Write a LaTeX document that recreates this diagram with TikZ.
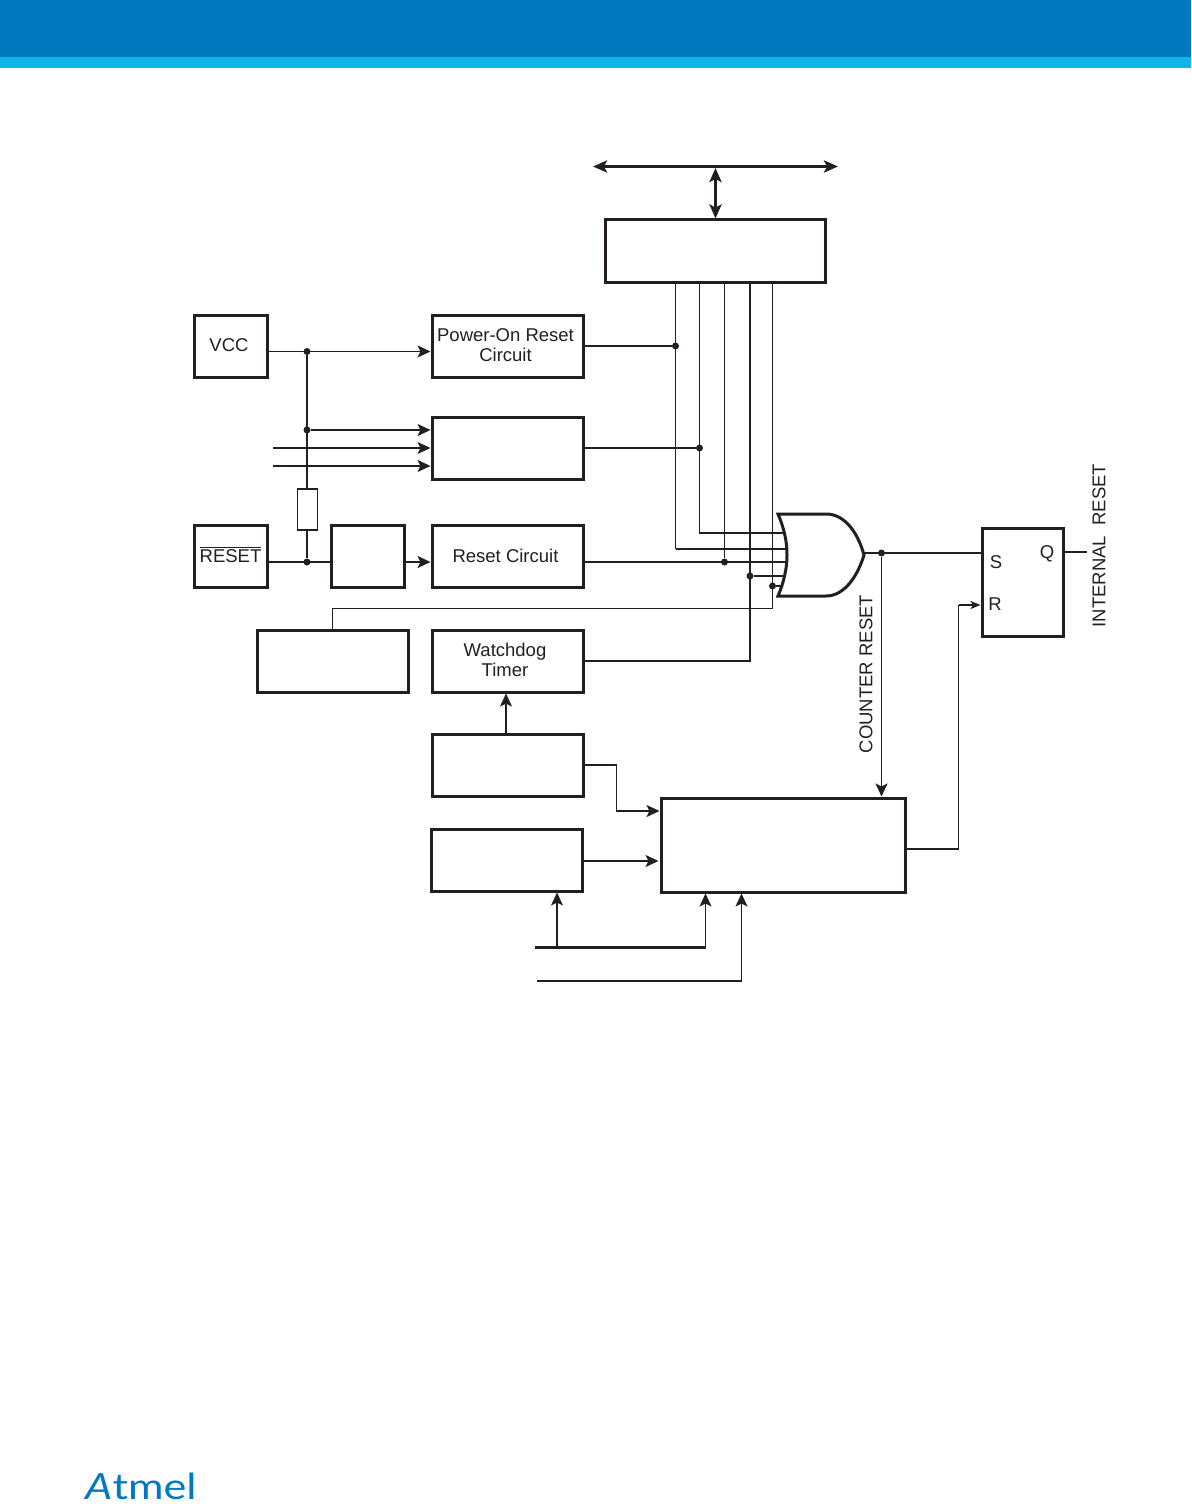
\documentclass[tikz,border=0pt]{standalone}
\usepackage{fontspec}
\setmainfont{Liberation Sans}
\newfontfamily\logofont{Lato}
\usetikzlibrary{arrows.meta}
\definecolor{hdrblue}{HTML}{0079C1}
\definecolor{hdrlight}{HTML}{12B5EA}
\definecolor{ink}{HTML}{231F20}
\tikzset{
  blk/.style={draw=ink,line width=3pt,minimum width=#1,minimum height=62pt,inner sep=0pt,align=center,font=\fontsize{18.5}{20}\selectfont,text=ink,xshift=-0.5pt,yshift=0.5pt},
  blk/.default=151pt,
  lbl/.style={inner sep=0pt,font=\fontsize{18.5}{20}\selectfont,text=ink},
  wire/.style={draw=ink,line width=1.5pt},
  bus/.style={draw=ink,line width=3.4pt},
  tip/.style={-{Stealth[length=13pt,width=12pt,inset=3pt]}},
  tiptwo/.style={{Stealth[length=14pt,width=12pt,inset=3pt]}-{Stealth[length=14pt,width=12pt,inset=3pt]}},
  small tip/.style={-{Stealth[length=10pt,width=8pt,inset=2.5pt]}},
  dotn/.style={circle,fill=ink,inner sep=0pt,minimum size=7pt}
}
\begin{document}
\begin{tikzpicture}[x=1pt,y=-1pt]
\useasboundingbox (0,0) rectangle (1191,1506);
\fill[hdrblue] (0,0) rectangle (1191,57);
\fill[hdrlight] (0,57) rectangle (1191,68);

% blocks
\node[blk=220pt] (ctrl) at (716,251.5) {};
\node[blk=73pt] (vcc) at (231,346.5) {};
\node[lbl] at (229,345) {VCC};
\node[blk] (por) at (508,346.5) {};
\node[lbl,align=center] at (505.5,345.5) {Power-On Reset\\Circuit};
\node[blk] (bod) at (508,448.5) {};
\node[blk=73pt] (rst) at (231,556.5) {};
\node[lbl] at (230.5,554.5) {\vbox{\hrule height 1pt\kern 1.6pt\hbox{RESET}}};
\node[blk=73pt] (flt) at (368,556.5) {};
\node[blk] (rc) at (508,556.5) {};
\node[lbl] at (505.5,555.5) {Reset Circuit};
\node[blk] (brown) at (333,661.5) {};
\node[blk] (wd) at (508,661.5) {};
\node[lbl,align=center] at (505,660) {Watchdog\\Timer};
\node[blk] (osc) at (508,765.5) {};
\node[blk] (ck) at (507,860.5) {};
\node[blk=244pt,minimum height=94pt] (cnt) at (783.5,845.5) {};
\node[blk=81pt,minimum height=108pt] (sr) at (1023,582.5) {};
\node[draw=ink,line width=1.5pt,minimum width=20pt,minimum height=41pt,inner sep=0pt] (res) at (307.5,509.5) {};
\node[lbl] at (996,562) {S};
\node[lbl] at (995,604) {R};
\node[lbl] at (1047,554) {Q};
\node[lbl,rotate=90] at (866,674) {COUNTER RESET};
\node[lbl,rotate=90] at (1099,545.5) {INTERNAL\ \ RESET};

% junctions and free ends
\coordinate (busL) at (593,166.5);
\coordinate (busR) at (838,166.5);
\coordinate (busM) at (715.5,166.5);
\node[dotn] (jv) at (307,351.5) {};
\node[dotn] (jb) at (307,430) {};
\node[dotn] (jr) at (307,562) {};
\coordinate (inA) at (273,448);
\coordinate (inB) at (273,466);
\node[dotn] (j1) at (675.5,346) {};
\node[dotn] (j2) at (699.5,448) {};
\node[dotn] (j3) at (724.5,562) {};
\node[dotn] (j4) at (750,576) {};
\node[dotn] (j5) at (772.5,586) {};
\node[dotn] (jo) at (881.5,553) {};
\coordinate (g1) at (784,533);
\coordinate (g2) at (786,549);
\coordinate (g3) at (786.5,562);
\coordinate (g4) at (785,576);
\coordinate (g5) at (781,586);
\coordinate (gout) at (864,553);
\coordinate (qout) at (1087,552);
\coordinate (inC) at (535,947.5);
\coordinate (inD) at (537,981);

% OR gate
\draw[draw=ink,line width=3pt,line join=miter] (778,514) -- (826,514)
  .. controls (845,514) and (858,533) .. (864,555)
  .. controls (858,575) and (845,596) .. (826,596) -- (778,596)
  .. controls (784,582) and (787,568) .. (787,555)
  .. controls (787,541) and (784,528) .. (778,514) -- cycle;
\coordinate (gate) at (826,555);

% bus
\draw[bus,tiptwo] (busL) -- (busR);
\draw[bus,tiptwo] (busM) ++(0,1.5) -- (ctrl.north -| busM);

% left part
\draw[wire,tip] (vcc.east |- jv) -- (por.west |- jv);
\draw[bus,line width=2.3pt] (jv) -- (res.north -| jv);
\draw[bus,line width=2.3pt] (res.south -| jr) -- (jr);
\draw[wire,tip] (jb) -- (bod.west |- jb);
\draw[wire,tip] (inA) -- (bod.west |- inA);
\draw[wire,tip] (inB) -- (bod.west |- inB);
\draw[bus,line width=2.4pt] (rst.east |- jr) -- (flt.west |- jr);
\draw[bus,line width=2.4pt,tip] (flt.east |- jr) -- (rc.west |- jr);

% into gate
\draw[wire] (por.east |- j1) -- (j1);
\draw[wire] (j1 |- ctrl.south) -- (g2 -| j1);
\draw[bus,line width=2.2pt] (g2 -| j1) -- (g2);
\draw[wire] (bod.east |- j2) -- (j2);
\draw[wire] (j2 |- ctrl.south) -- (g1 -| j2) -- (g1);
\draw[bus,line width=2.4pt] (rc.east |- j3) -- (g3);
\draw[wire] (j3 |- ctrl.south) -- (j3);
\draw[bus,line width=2.4pt] (j4 |- ctrl.south) -- (j4 |- wd.east) -- (wd.east);
\draw[wire] (j4) -- (g4);
\draw[wire] (j5 |- ctrl.south) -- (772.5,608.5) -- (brown.north |- 0,608.5) -- (brown.north);
\draw[bus,line width=2.2pt] (j5) -- (g5);

% outputs
\draw[wire] (gout) -- (sr.west |- gout);
\draw[wire,tip] (jo) -- (cnt.north -| jo);
\draw[wire] (sr.east |- qout) -- (qout);
\draw[wire] (cnt.east |- 0,849) -- (958.5,849) -- (958.5,605);
\draw[wire,line width=2pt,small tip] (958.5,605) -- (sr.west |- 0,605);

% lower part
\draw[wire,tip] (osc.north -| 506,0) -- (wd.south -| 506,0);
\draw[wire,tip] (osc.east |- 0,765) -- (616.5,765) -- (616.5,811) -- (cnt.west |- 0,811);
\draw[wire,tip] (ck.east |- 0,861) -- (658.5,861);
\draw[wire,tip] (557,947.5) -- (ck.south -| 557,0);
\draw[bus,line width=2.4pt] (inC) -- (705.5,947.5);
\draw[wire,tip] (705.5,947.5) -- (cnt.south -| 705.5,0);
\draw[wire,tip] (inD) -- (741.5,981) -- (cnt.south -| 741.5,0);

% logo
\node[anchor=base west,inner sep=0pt,text=hdrblue,xscale=1.2,font=\logofont\fontsize{36}{36}\selectfont] (logo) at (85,1499.5) {\textit{A}tmel};
\end{tikzpicture}
\end{document}
